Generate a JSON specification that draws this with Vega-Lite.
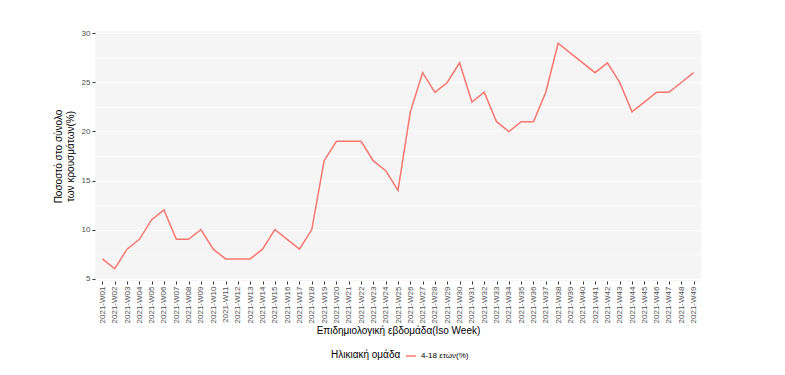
{
  "$schema": "https://vega.github.io/schema/vega-lite/v6.json",
  "width": 606,
  "height": 250,
  "padding": {"left": 53, "top": 29, "right": 80, "bottom": 5},
  "background": "white",
  "config": {
    "font": "Liberation Sans",
    "view": {"fill": "#F5F5F5", "stroke": null},
    "axis": {"domain": false, "tickColor": "#333333", "tickSize": 3, "gridColor": "white", "labelColor": "#4D4D4D", "labelFontSize": 8, "titleFontSize": 10, "titleFontWeight": "normal", "titleColor": "black"}
  },
  "data": {"values": [
    {"week": "2021-W01", "value": 7, "group": "4-18 ετών(%)"},
    {"week": "2021-W02", "value": 6, "group": "4-18 ετών(%)"},
    {"week": "2021-W03", "value": 8, "group": "4-18 ετών(%)"},
    {"week": "2021-W04", "value": 9, "group": "4-18 ετών(%)"},
    {"week": "2021-W05", "value": 11, "group": "4-18 ετών(%)"},
    {"week": "2021-W06", "value": 12, "group": "4-18 ετών(%)"},
    {"week": "2021-W07", "value": 9, "group": "4-18 ετών(%)"},
    {"week": "2021-W08", "value": 9, "group": "4-18 ετών(%)"},
    {"week": "2021-W09", "value": 10, "group": "4-18 ετών(%)"},
    {"week": "2021-W10", "value": 8, "group": "4-18 ετών(%)"},
    {"week": "2021-W11", "value": 7, "group": "4-18 ετών(%)"},
    {"week": "2021-W12", "value": 7, "group": "4-18 ετών(%)"},
    {"week": "2021-W13", "value": 7, "group": "4-18 ετών(%)"},
    {"week": "2021-W14", "value": 8, "group": "4-18 ετών(%)"},
    {"week": "2021-W15", "value": 10, "group": "4-18 ετών(%)"},
    {"week": "2021-W16", "value": 9, "group": "4-18 ετών(%)"},
    {"week": "2021-W17", "value": 8, "group": "4-18 ετών(%)"},
    {"week": "2021-W18", "value": 10, "group": "4-18 ετών(%)"},
    {"week": "2021-W19", "value": 17, "group": "4-18 ετών(%)"},
    {"week": "2021-W20", "value": 19, "group": "4-18 ετών(%)"},
    {"week": "2021-W21", "value": 19, "group": "4-18 ετών(%)"},
    {"week": "2021-W22", "value": 19, "group": "4-18 ετών(%)"},
    {"week": "2021-W23", "value": 17, "group": "4-18 ετών(%)"},
    {"week": "2021-W24", "value": 16, "group": "4-18 ετών(%)"},
    {"week": "2021-W25", "value": 14, "group": "4-18 ετών(%)"},
    {"week": "2021-W26", "value": 22, "group": "4-18 ετών(%)"},
    {"week": "2021-W27", "value": 26, "group": "4-18 ετών(%)"},
    {"week": "2021-W28", "value": 24, "group": "4-18 ετών(%)"},
    {"week": "2021-W29", "value": 25, "group": "4-18 ετών(%)"},
    {"week": "2021-W30", "value": 27, "group": "4-18 ετών(%)"},
    {"week": "2021-W31", "value": 23, "group": "4-18 ετών(%)"},
    {"week": "2021-W32", "value": 24, "group": "4-18 ετών(%)"},
    {"week": "2021-W33", "value": 21, "group": "4-18 ετών(%)"},
    {"week": "2021-W34", "value": 20, "group": "4-18 ετών(%)"},
    {"week": "2021-W35", "value": 21, "group": "4-18 ετών(%)"},
    {"week": "2021-W36", "value": 21, "group": "4-18 ετών(%)"},
    {"week": "2021-W37", "value": 24, "group": "4-18 ετών(%)"},
    {"week": "2021-W38", "value": 29, "group": "4-18 ετών(%)"},
    {"week": "2021-W39", "value": 28, "group": "4-18 ετών(%)"},
    {"week": "2021-W40", "value": 27, "group": "4-18 ετών(%)"},
    {"week": "2021-W41", "value": 26, "group": "4-18 ετών(%)"},
    {"week": "2021-W42", "value": 27, "group": "4-18 ετών(%)"},
    {"week": "2021-W43", "value": 25, "group": "4-18 ετών(%)"},
    {"week": "2021-W44", "value": 22, "group": "4-18 ετών(%)"},
    {"week": "2021-W45", "value": 23, "group": "4-18 ετών(%)"},
    {"week": "2021-W46", "value": 24, "group": "4-18 ετών(%)"},
    {"week": "2021-W47", "value": 24, "group": "4-18 ετών(%)"},
    {"week": "2021-W48", "value": 25, "group": "4-18 ετών(%)"},
    {"week": "2021-W49", "value": 26, "group": "4-18 ετών(%)"}
  ]},
  "mark": {"type": "line", "strokeWidth": 1.5},
  "encoding": {
    "x": {
      "field": "week", "type": "ordinal",
      "scale": {"type": "point", "padding": 0.6},
      "axis": {"title": "Επιδημιολογική εβδομάδα(Iso Week)", "labelAngle": -90, "labelAlign": "right", "labelBaseline": "middle", "labelPadding": 2, "gridWidth": 1, "titlePadding": 3}
    },
    "y": {
      "field": "value", "type": "quantitative",
      "scale": {"domain": [4.75, 30.25], "nice": false, "zero": false},
      "axis": {
        "title": ["Ποσοστό στο σύνολο", "των κρουσμάτων(%)"],
        "values": [5, 7.5, 10, 12.5, 15, 17.5, 20, 22.5, 25, 27.5, 30],
        "labelExpr": "datum.value % 5 === 0 ? datum.label : ''",
        "tickOpacity": {"condition": {"test": "datum.value % 5 === 0", "value": 1}, "value": 0},
        "gridWidth": {"condition": {"test": "datum.value % 5 === 0", "value": 1}, "value": 0.5},
        "labelPadding": 2,
        "titlePadding": 6
      }
    },
    "color": {
      "field": "group", "type": "nominal",
      "scale": {"domain": ["4-18 ετών(%)"], "range": ["#F8766D"]},
      "legend": {
        "title": "Ηλικιακή ομάδα", "orient": "none", "direction": "horizontal",
        "titleOrient": "left", "legendX": 236, "legendY": 319,
        "titleFontSize": 10, "titleFontWeight": "normal", "titleColor": "black",
        "labelFontSize": 8, "labelColor": "black",
        "symbolType": "stroke", "symbolStrokeWidth": 1.5, "symbolSize": 100,
        "titlePadding": 4, "titleBaseline": "middle", "titleAnchor": "middle"
      }
    }
  }
}
